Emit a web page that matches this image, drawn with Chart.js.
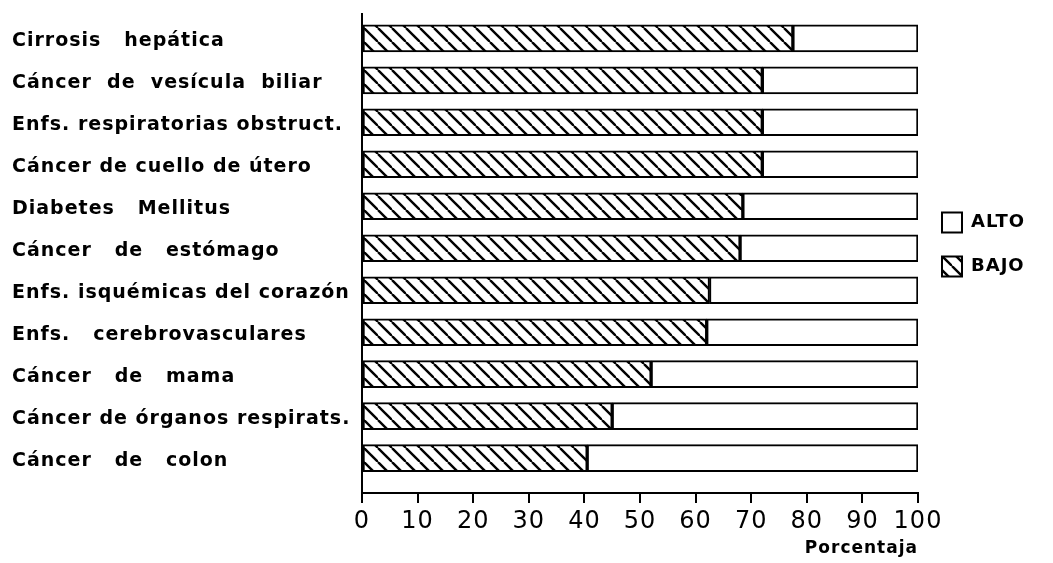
<!DOCTYPE html>
<html>
<head>
<meta charset="utf-8">
<script src="https://cdn.jsdelivr.net/npm/chart.js@4.4.1/dist/chart.umd.min.js"></script>
<style>
  html, body { margin: 0; padding: 0; background: #fff; }
  #wrap { width: 1053px; height: 563px; }
</style>
</head>
<body>
<div id="wrap"><canvas id="causasChart"></canvas></div>
<script>
// causas de muerte, de arriba a abajo
var causas = [
  "Cirrosis   hepática",
  "Cáncer  de  vesícula  biliar",
  "Enfs. respiratorias obstruct.",
  "Cáncer de cuello de útero",
  "Diabetes   Mellitus",
  "Cáncer   de   estómago",
  "Enfs. isquémicas del corazón",
  "Enfs.   cerebrovasculares",
  "Cáncer   de   mama",
  "Cáncer de órganos respirats.",
  "Cáncer   de   colon"
];
var bajo = [77.5, 72, 72, 72, 68.5, 68, 62.5, 62, 52, 45, 40.5];
var alto = [22.5, 28, 28, 28, 31.5, 32, 37.5, 38, 48, 55, 59.5];
var xTicks = [0, 10, 20, 30, 40, 50, 60, 70, 80, 90, 100];

function hatch() {
  var s = 14;
  var c = document.createElement('canvas');
  c.width = s; c.height = s;
  var g = c.getContext('2d');
  g.fillStyle = '#fff';
  g.fillRect(0, 0, s, s);
  g.strokeStyle = '#000';
  g.lineWidth = 2.4;
  for (var k = -1; k <= 1; k++) {
    g.beginPath();
    g.moveTo(k * s, 0);
    g.lineTo(k * s + s, s);
    g.stroke();
  }
  return g.createPattern(c, 'repeat');
}

function points(vals) {
  return vals.map(function(v, i) { return {x: v, y: i}; });
}

// letras algo espaciadas, como en el original
var spacing = {
  id: 'spacing',
  beforeDraw: function(chart) { chart.ctx.letterSpacing = '1px'; },
  afterDraw: function(chart) { chart.ctx.letterSpacing = '0px'; }
};

var ctx = document.getElementById('causasChart');
var myChart = new Chart(ctx, {
  type: 'bar',
  data: {
    datasets: [{
      label: 'BAJO',
      data: points(bajo),
      backgroundColor: hatch(),
      borderColor: '#000',
      borderWidth: 2,
      borderSkipped: false,
      barThickness: 27
    }, {
      label: 'ALTO',
      data: points(alto),
      backgroundColor: '#fff',
      borderColor: '#000',
      borderWidth: 2,
      borderSkipped: false,
      barThickness: 27
    }]
  },
  plugins: [spacing],
  options: {
    indexAxis: 'y',
    responsive: true,
    maintainAspectRatio: false,
    animation: false,
    layout: {
      padding: { left: 12, top: 12, right: 22, bottom: 0 }
    },
    scales: {
      x: {
        type: 'linear',
        stacked: true,
        min: 0,
        max: 100,
        afterBuildTicks: function(axis) {
          axis.ticks = xTicks.map(function(v) { return {value: v}; });
        },
        afterFit: function(scale) { scale.height = 70; },
        ticks: {
          color: '#000',
          padding: 4,
          maxRotation: 0,
          font: { family: 'DejaVu Sans', size: 24 }
        },
        grid: {
          drawOnChartArea: false,
          drawTicks: true,
          tickLength: 10,
          color: '#000',
          lineWidth: 2
        },
        border: { color: '#000', width: 2 },
        title: {
          display: true,
          text: 'Porcentaja',
          align: 'end',
          color: '#000',
          padding: { top: 2, bottom: 4 },
          font: { family: 'DejaVu Sans', size: 17, weight: 'bold' }
        }
      },
      y: {
        type: 'linear',
        stacked: true,
        reverse: true,
        offset: false,
        min: -0.57,
        max: 10.83,
        afterBuildTicks: function(axis) {
          axis.ticks = causas.map(function(c, i) { return {value: i}; });
        },
        afterFit: function(scale) { scale.width = 350; },
        ticks: {
          color: '#000',
          crossAlign: 'far',
          autoSkip: false,
          labelOffset: 3,
          callback: function(v) { return causas[v]; },
          font: { family: 'DejaVu Sans', size: 19, weight: 'bold' }
        },
        grid: { display: false, offset: false },
        border: { color: '#000', width: 2 }
      }
    },
    plugins: {
      tooltip: { enabled: false },
      legend: {
        position: 'right',
        align: 'start',
        reverse: true,
        title: {
          display: true,
          text: '',
          padding: { top: 162, bottom: 0 },
          font: { size: 12 }
        },
        labels: {
          color: '#000',
          boxWidth: 20,
          boxHeight: 20,
          padding: 24,
          font: { family: 'DejaVu Sans', size: 18, weight: 'bold' }
        }
      }
    }
  }
});
</script>
</body>
</html>
